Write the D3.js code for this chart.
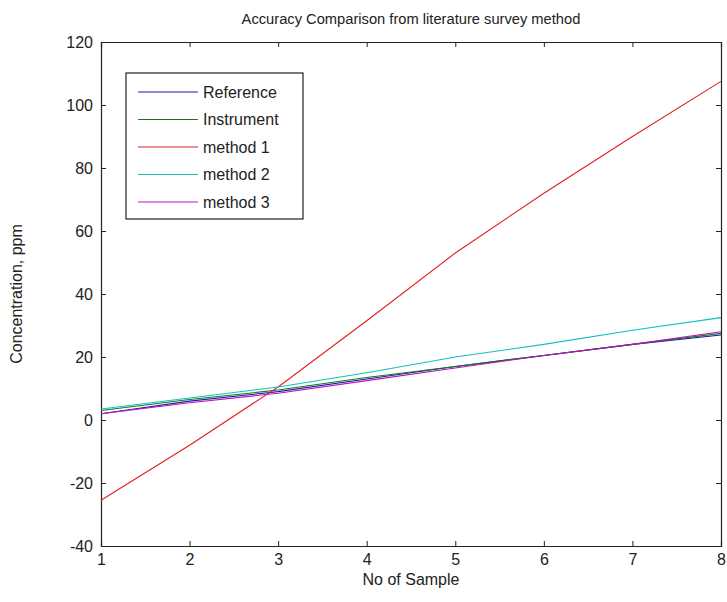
<!DOCTYPE html>
<html>
<head>
<meta charset="utf-8">
<script src="https://cdn.jsdelivr.net/npm/d3@7"></script>
<style>
  body { margin: 0; background: #fff; }
  text { font-family: "Liberation Sans", Arial, sans-serif; fill: #222; }
</style>
</head>
<body>
<div id="chart"></div>
<script>
// samples on the x axis
const samples = [1, 2, 3, 4, 5, 6, 7, 8];

// series values
const reference  = [2, 6, 9, 13, 17, 20.5, 24, 27];
const instrument = [3, 6.5, 9.5, 13.5, 17, 20.5, 24, 27.5];
const method1    = [-25.5, -8, 10.5, 31.5, 53, 72, 90, 107.5];
const method2    = [3.5, 7, 10.5, 15, 20, 24, 28.5, 32.5];
const method3    = [2, 5.5, 8.5, 12.5, 16.5, 20.5, 24, 28];

const seriesNames = ["Reference", "Instrument", "method 1", "method 2", "method 3"];
const seriesColors = ["#1a1ab0", "#107a10", "#e02020", "#10c0c0", "#c010c0"];

const xTicks = [1, 2, 3, 4, 5, 6, 7, 8];
const yTicks = [-40, -20, 0, 20, 40, 60, 80, 100, 120];

const layout = ({
  width: 727,
  height: 602,
  margin: { top: 42, bottom: 56, left: 101, right: 6 }
})

var w = layout.width, h = layout.height, margin = layout.margin
var width = w - margin.left - margin.right
var height = h - margin.top - margin.bottom

var svg = d3.select("#chart").append("svg").attr("width", w).attr("height", h)
const g = svg.append("g").attr("transform", `translate(${margin.left}, ${margin.top})`)

var x = d3.scaleLinear().domain([1, 8]).range([0, width])
var y = d3.scaleLinear().domain([-40, 120]).range([height, 0])

// plain hyphen for negatives, like matlab
const fmt = d => String(d)

// axes, ticks pointing inward like matlab
const tickLen = 5
g.append("g").attr("transform", `translate(0, ${height})`)
  .call(d3.axisBottom(x).tickValues(xTicks).tickSize(-tickLen).tickPadding(8).tickFormat(fmt))
g.append("g")
  .call(d3.axisTop(x).tickValues(xTicks).tickSize(-tickLen).tickFormat(""))
g.append("g")
  .call(d3.axisLeft(y).tickValues(yTicks).tickSize(-tickLen).tickPadding(8).tickFormat(fmt))
g.append("g").attr("transform", `translate(${width}, 0)`)
  .call(d3.axisRight(y).tickValues(yTicks).tickSize(-tickLen).tickFormat(""))

g.selectAll(".domain").attr("stroke", "#222").attr("stroke-width", 1.2)
g.selectAll(".tick line").attr("stroke", "#222")
g.selectAll(".tick text").style("font-size", "16px").attr("fill", "#222")

// lines
const allSeries = [reference, instrument, method1, method2, method3]
var line = d3.line().x((d, i) => x(samples[i])).y(d => y(d))

g.append("g").selectAll("path")
  .data(allSeries)
  .join("path")
  .attr("fill", "none")
  .attr("stroke", (d, i) => seriesColors[i])
  .attr("stroke-width", 1.1)
  .attr("d", line)

// title and labels
svg.append("text")
  .attr("x", margin.left + width / 2).attr("y", 24)
  .attr("text-anchor", "middle").style("font-size", "14.7px")
  .text("Accuracy Comparison from literature survey method")

svg.append("text")
  .attr("x", margin.left + width / 2).attr("y", 585)
  .attr("text-anchor", "middle").style("font-size", "16px")
  .text("No of Sample")

svg.append("text")
  .attr("transform", `translate(22, ${margin.top + height / 2}) rotate(-90)`)
  .attr("text-anchor", "middle").style("font-size", "16px")
  .text("Concentration, ppm")

// legend
var legend = svg.append("g").attr("transform", "translate(126, 73)")
legend.append("rect")
  .attr("width", 177).attr("height", 146)
  .attr("fill", "#fff").attr("stroke", "#222").attr("stroke-width", 1.2)

var rows = legend.selectAll(".row")
  .data(seriesNames)
  .join("g")
  .attr("class", "row")
  .attr("transform", (d, i) => `translate(0, ${19 + i * 27.5})`)

rows.append("line")
  .attr("x1", 12).attr("x2", 72)
  .attr("stroke", (d, i) => seriesColors[i]).attr("stroke-width", 1.1)

rows.append("text")
  .attr("x", 77).attr("dy", "0.35em")
  .style("font-size", "16px")
  .text(d => d)
</script>
</body>
</html>
